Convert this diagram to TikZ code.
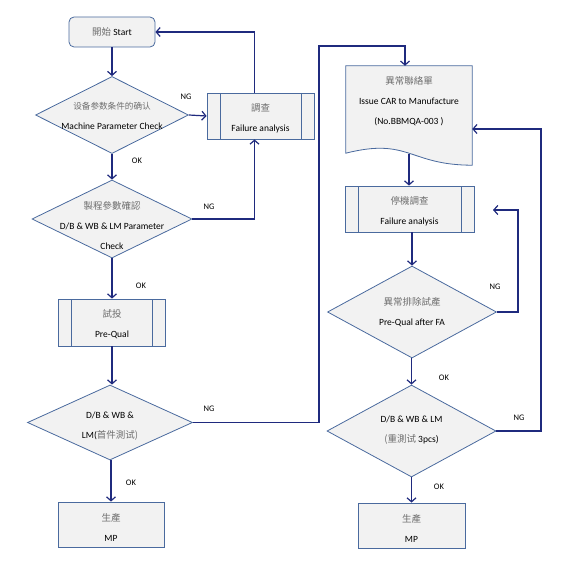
\documentclass[tikz,border=0pt]{standalone}
\usepackage{fontspec}
\setmainfont{Carlito}
\newfontfamily\cjkfont{Noto Sans CJK TC}
\usetikzlibrary{shapes.geometric,arrows.meta,positioning,calc}
\definecolor{bordc}{HTML}{4A6A9E}
\definecolor{boxfill}{HTML}{F2F2F2}
\definecolor{arrc}{HTML}{1F2A7E}
\definecolor{cjkgray}{HTML}{6E6E6E}
\newcommand{\zhtxt}[1]{{\cjkfont\fontsize{9.5}{20}\selectfont\color{cjkgray}#1}}
\begin{document}
\begin{tikzpicture}[x=1pt,y=-1pt,
  shp/.style={draw=bordc,fill=boxfill,line width=0.8pt,inner sep=0pt},
  plainbox/.style={shp,rectangle,minimum width=#1},
  procbox/.style={shp,rectangle,minimum width=#1,
    path picture={\draw[bordc,line width=0.8pt]
      ([xshift=13pt]path picture bounding box.north west) -- ([xshift=13pt]path picture bounding box.south west)
      ([xshift=-13pt]path picture bounding box.north east) -- ([xshift=-13pt]path picture bounding box.south east);}},
  dia/.style={shp,diamond},
  txt/.style={font=\fontsize{9.5}{20}\selectfont,align=center,text=black,inner sep=0pt},
  lbl/.style={font=\fontsize{8.5}{10}\selectfont,text=black,inner sep=0pt},
  arr/.style={draw=arrc,line width=1.2pt,-{Straight Barb[length=4pt,width=9pt]}},
  lin/.style={draw=arrc,line width=1.2pt}]
\useasboundingbox (0,0) rectangle (575,567);

% left column
\node[plainbox=86,minimum height=30,rounded corners=5pt] (start) at (112,32) {};
\node[txt] (startt) at (start) {\zhtxt{開始} Start};

\node[dia,minimum width=153,minimum height=77] (d1) at (112,115) {};
\node[txt] (d1t) at (112,115.5) {{\cjkfont\fontsize{8.6}{20}\selectfont\color{cjkgray}设备参数条件的确认}\\Machine Parameter Check};

\node[procbox=107,minimum height=46] (fa1) at (260.5,116) {};
\node[txt] (fa1t) at (260.5,118) {\zhtxt{調查}\\Failure analysis};

\node[dia,minimum width=160,minimum height=78] (d2) at (112,219) {};
\node[txt] (d2t) at (112,226) {\zhtxt{製程參數確認}\\D/B \& WB \& LM Parameter\\Check};

\node[procbox=107,minimum height=47] (pq) at (112,322.5) {};
\node[txt] (pqt) at (112,324) {\zhtxt{試投}\\Pre-Qual};

\node[dia,minimum width=165,minimum height=75] (d3) at (110,422.5) {};
\node[txt] (d3t) at (110,426) {D/B \& WB \&\\LM(\zhtxt{首件測试)}};

\node[plainbox=106,minimum height=45] (mp1) at (111,524.5) {};
\node[txt] (mp1t) at (111,527) {\zhtxt{生產}\\MP};

% right column
\node[rectangle,minimum width=126,minimum height=87,inner sep=0pt] (doc) at (409,109.5) {};
\path[shp] (doc.north west) -- (doc.north east) -- ([yshift=-12pt]doc.south east)
  .. controls ([yshift=-12pt]doc.south) and ([yshift=16pt]doc.south) .. ([yshift=0pt]doc.south west) -- cycle;
\node[txt] (doct) at (409,101.5) {\zhtxt{異常聯絡單}\\Issue CAR to Manufacture\\(No.BBMQA-003 )};

\node[procbox=129,minimum height=46] (fa2) at (409.5,209) {};
\node[txt] (fa2t) at (409.5,211) {\zhtxt{停機調查}\\Failure analysis};

\node[dia,minimum width=169,minimum height=92] (d4) at (412,312) {};
\node[txt] (d4t) at (412,312) {\zhtxt{異常排除試產}\\Pre-Qual after FA};

\node[dia,minimum width=169,minimum height=92] (d5) at (411.5,431) {};
\node[txt] (d5t) at (411.5,430.5) {D/B \& WB \& LM\\\zhtxt{(重測试} 3pcs)};

\node[plainbox=107,minimum height=45] (mp2) at (411.5,525.5) {};
\node[txt] (mp2t) at (411.5,528) {\zhtxt{生產}\\MP};

% coordinates for bends
\coordinate (nga) at (319,46);
\coordinate (ngb) at (518,210);
\coordinate (ngtip) at (493,210);
\coordinate (ngc) at (541,129);

% connectors left
\draw[arr] (start.south) -- (d1.north);
\draw[arr] (d1.east) -- (fa1.west);
\draw[arr] ([xshift=-6pt]fa1.north) |- (start.east);
\draw[arr] (d1.south) -- (d2.north);
\draw[arr] (d2.east) -| ([xshift=-6pt]fa1.south);
\draw[arr] (d2.south) -- (pq.north);
\draw[arr] (pq.south) -- (d3.north -| pq.south);
\draw[arr] (d3.south -| mp1.north) -- (mp1.north);
\draw[arr] (d3.east) -| (nga) -| ([xshift=-4pt]doc.north);

% connectors right
\draw[arr] ([yshift=-1pt]doc.south) -- (fa2.north -| doc.south);
\draw[arr] (fa2.south -| d4.north) -- (d4.north);
\draw[arr] (d4.east) -| (ngb) -- (ngtip);
\draw[arr] (d4.south -| d5.north) -- (d5.north);
\draw[arr] (d5.east) -| (ngc) -- (ngc -| doc.east);
\draw[arr] (d5.south) -- (mp2.north);

% labels
\node[lbl] (ng1) at (186,97) {NG};
\node[lbl] (ok1) at (137,161) {OK};
\node[lbl] (ng2) at (209,207) {NG};
\node[lbl] (ok2) at (141,286) {OK};
\node[lbl] (ng3) at (209,409) {NG};
\node[lbl] (ok3) at (131,483) {OK};
\node[lbl] (ng4) at (495,287) {NG};
\node[lbl] (ok4) at (444,378) {OK};
\node[lbl] (ng5) at (519,418) {NG};
\node[lbl] (ok5) at (439,487) {OK};
\end{tikzpicture}
\end{document}
